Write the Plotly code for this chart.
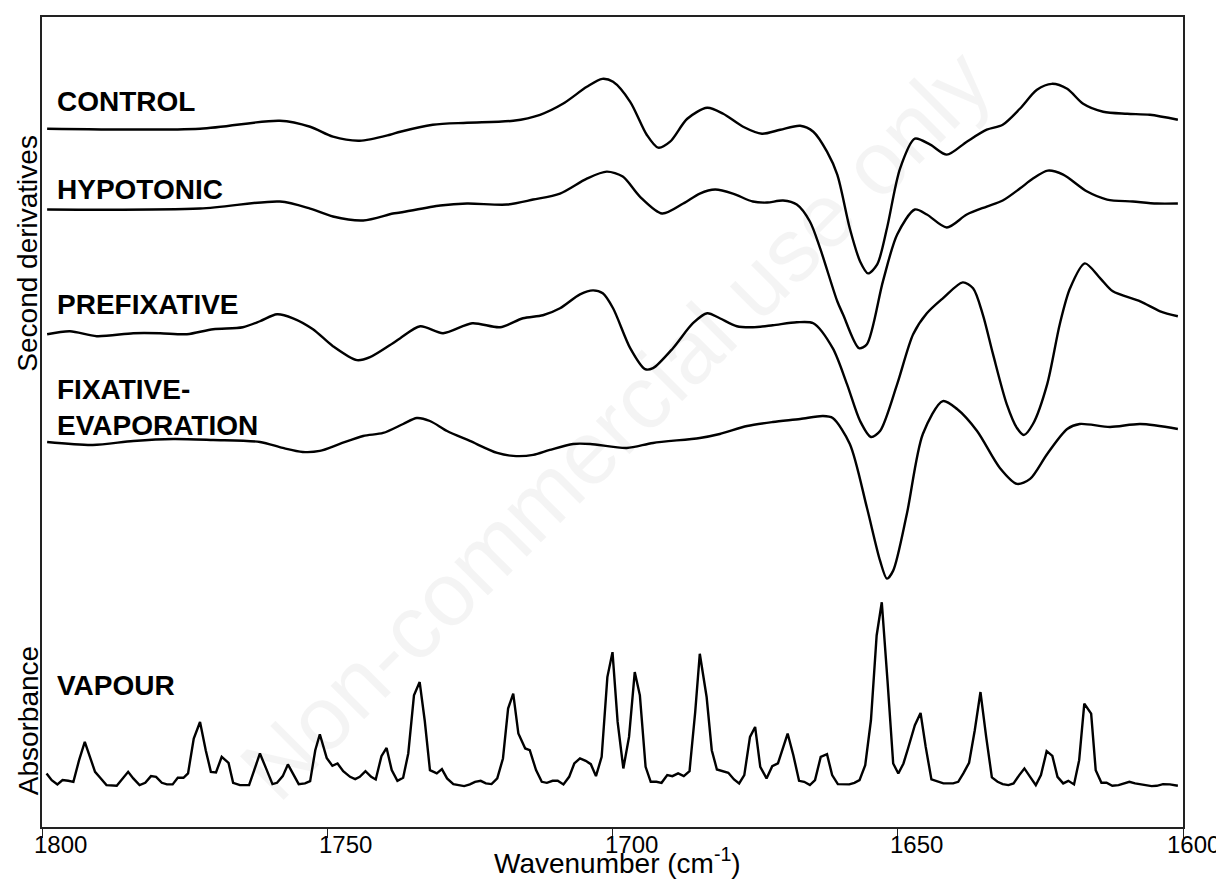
import plotly.graph_objects as go

# ---------------- data ----------------
tick_vals = [1800, 1750, 1700, 1650, 1600]
tick_text = ["1800", "1750", "1700", "1650", "1600"]

# second-derivative spectra: wavenumber (cm-1) and value (a.u., relative to own baseline)
control_wn = [1799.1, 1772.3, 1758.3, 1753.0, 1749.0, 1744.3, 1739.0, 1737.2, 1731.5, 1725.5,
              1717.4, 1712.7, 1708.7, 1704.5, 1701.8, 1699.9, 1696.9, 1694.0, 1692.0, 1689.9,
              1686.9, 1683.4, 1680.6, 1677.1, 1673.8, 1670.6, 1667.1, 1664.8, 1662.4, 1660.6,
              1658.4, 1656.6, 1655.2, 1653.6, 1651.9, 1649.6, 1647.0, 1644.3, 1641.4, 1637.9,
              1634.4, 1631.6, 1628.6, 1625.6, 1623.0, 1620.3, 1617.5, 1614.0, 1609.8, 1605.8, 1600.9]
control_val = [0, 0, 8, 2, -8, -12, -6, -3, 4, 6,
               8, 14, 25, 42, 50, 47, 27, -6, -19, -13,
               10, 21, 15, 2, -5, -1, 3, -3, -23, -46,
               -100, -133, -145, -136, -100, -40, -10, -16, -26, -13,
               -1, 4, 20, 39, 45, 40, 25, 17, 15, 14, 9]

hypotonic_wn = [1799.1, 1772.3, 1758.3, 1753.0, 1749.0, 1743.7, 1738.5, 1737.2, 1730.2, 1725.5,
                1718.5, 1713.9, 1709.2, 1704.5, 1701.0, 1698.2, 1695.2, 1691.3, 1687.6, 1684.7,
                1682.0, 1678.9, 1675.4, 1672.9, 1670.1, 1667.7, 1665.4, 1663.6, 1660.6, 1659.6,
                1656.8, 1655.4, 1652.6, 1650.1, 1647.0, 1644.9, 1641.4, 1637.9, 1634.4, 1631.6,
                1628.6, 1626.3, 1623.7, 1621.0, 1616.8, 1613.3, 1608.8, 1604.6, 1600.9]
hypotonic_val = [0, 1, 8, 1, -7, -11, -4, -3, 4, 6,
                 5, 10, 16, 31, 38, 33, 13, -4, 6, 16,
                 20, 16, 8, 7, 9, 5, -12, -39, -92, -105,
                 -139, -135, -72, -25, 0, -5, -18, -5, 3, 9,
                 21, 31, 39, 35, 18, 10, 8, 6, 6]

prefix_wn = [1799.1, 1795.1, 1790.4, 1784.0, 1779.3, 1774.6, 1770.0, 1764.8, 1761.8, 1758.8,
             1756.0, 1752.5, 1749.0, 1744.8, 1742.5, 1738.5, 1737.2, 1733.7, 1729.7, 1724.6,
             1719.7, 1715.7, 1712.2, 1709.2, 1705.7, 1703.4, 1701.7, 1699.9, 1696.9, 1694.3,
             1692.9, 1689.4, 1685.9, 1683.4, 1681.2, 1678.2, 1675.4, 1671.9, 1667.7, 1664.8,
             1661.4, 1658.9, 1656.6, 1654.7, 1653.1, 1650.1, 1647.3, 1644.9, 1642.1, 1638.6,
             1636.8, 1635.1, 1633.3, 1630.9, 1629.1, 1627.9, 1626.3, 1623.8, 1621.6, 1619.8,
             1617.2, 1614.5, 1612.3, 1607.5, 1604.0, 1600.9]
prefix_val = [0, 3, -2, 1, 1, 0, 5, 7, 13, 20,
              16, 5, -12, -26, -23, -9, -4, 8, 1, 11,
              7, 16, 19, 26, 40, 44, 41, 26, -14, -35,
              -34, -14, 11, 21, 16, 8, 7, 9, 12, 11,
              -14, -50, -87, -103, -97, -50, 0, 21, 36, 52,
              46, 20, -20, -70, -94, -101, -90, -50, 10, 46,
              71, 56, 43, 33, 23, 18]

fixevap_wn = [1799.1, 1791.1, 1784.0, 1777.0, 1770.0, 1761.8, 1757.8, 1754.3, 1751.3, 1747.8,
              1743.7, 1740.2, 1736.7, 1734.3, 1732.0, 1729.0, 1725.0, 1720.2, 1717.4, 1713.9,
              1711.0, 1706.9, 1703.9, 1697.5, 1692.9, 1684.7, 1681.2, 1676.4, 1671.9, 1667.1,
              1663.1, 1661.4, 1658.4, 1655.4, 1653.1, 1651.9, 1650.8, 1648.4, 1645.6, 1642.1,
              1639.6, 1636.1, 1632.1, 1629.1, 1626.8, 1623.8, 1620.3, 1618.1, 1612.8, 1607.5, 1600.9]
fixevap_val = [0, -3, 1, 3, 2, 0, -6, -10, -9, -2,
               6, 9, 18, 24, 21, 11, 1, -11, -14, -13,
               -8, -2, -2, -6, -1, 4, 8, 16, 20, 23,
               26, 24, -2, -66, -119, -137, -129, -72, 8, 41,
               33, 11, -26, -42, -37, -12, 13, 18, 15, 18, 13]

# water vapour absorbance spectrum
vapour_wn = [1799.2, 1798.3, 1797.3, 1796.4, 1795.4, 1794.5, 1793.5, 1792.5, 1791.6, 1790.7,
             1789.8, 1788.7, 1786.9, 1785.9, 1784.9, 1784.0, 1782.9, 1781.9, 1780.9, 1780.0,
             1779.0, 1778.1, 1777.1, 1776.2, 1775.2, 1774.4, 1773.4, 1772.3, 1771.3, 1770.4,
             1769.5, 1768.5, 1767.3, 1766.5, 1765.3, 1763.7, 1762.7, 1761.8, 1760.6, 1759.6,
             1758.8, 1757.8, 1756.9, 1756.0, 1755.0, 1753.9, 1753.0, 1752.1, 1751.3, 1750.1,
             1749.1, 1748.2, 1747.2, 1746.0, 1745.1, 1744.3, 1743.3, 1742.3, 1741.5, 1740.5,
             1739.6, 1738.7, 1737.7, 1736.7, 1735.8, 1734.8, 1733.8, 1732.9, 1732.0, 1730.8,
             1729.9, 1729.0, 1727.9, 1726.0, 1725.0, 1724.1, 1723.1, 1722.2, 1721.2, 1720.2,
             1719.2, 1718.3, 1717.4, 1716.5, 1715.3, 1714.5, 1713.4, 1712.4, 1711.5, 1710.5,
             1709.6, 1708.6, 1707.6, 1706.7, 1705.7, 1704.7, 1703.8, 1702.9, 1701.9, 1700.9,
             1700.0, 1699.1, 1698.1, 1697.1, 1696.1, 1695.2, 1694.2, 1693.3, 1692.3, 1691.4,
             1690.4, 1689.5, 1688.5, 1687.5, 1686.5, 1685.5, 1684.7, 1683.5, 1682.6, 1681.7,
             1680.6, 1679.7, 1678.7, 1677.8, 1676.9, 1675.9, 1675.0, 1674.1, 1673.0, 1672.0,
             1671.0, 1670.1, 1669.3, 1668.3, 1667.3, 1666.4, 1665.4, 1664.5, 1663.5, 1662.4,
             1661.5, 1660.5, 1659.5, 1658.5, 1657.6, 1656.7, 1655.7, 1654.7, 1653.7, 1652.8,
             1651.8, 1650.8, 1649.9, 1649.0, 1648.2, 1647.0, 1646.0, 1645.1, 1644.1, 1643.1,
             1642.0, 1640.3, 1639.4, 1638.5, 1637.5, 1636.5, 1635.5, 1634.5, 1633.5, 1632.5,
             1631.6, 1630.6, 1629.7, 1628.7, 1627.8, 1626.8, 1625.8, 1624.9, 1623.9, 1622.9,
             1622.0, 1621.0, 1620.1, 1619.1, 1618.2, 1617.3, 1616.1, 1615.3, 1614.3, 1613.4,
             1612.4, 1611.3, 1609.4, 1608.4, 1606.4, 1605.5, 1604.6, 1603.5, 1602.3, 1600.9]
vapour_val = [12.7, 6, 1.7, 6, 5.3, 4.3, 26, 44.3, 29.3, 14.3,
              8.3, 1, 0.3, 7.7, 14.3, 7.7, 1, 3.3, 10, 9.3,
              3.3, 1.7, 1.7, 8.3, 8.3, 12.7, 47.7, 64.3, 36, 14.3,
              13.7, 29.3, 23.3, 3.3, 1, 1, 17.7, 32.7, 16, 2,
              3.3, 10, 21.7, 11.7, 2, 2.7, 5, 36, 52, 28.3,
              20.3, 22.7, 15, 9.3, 7, 9.3, 15, 9.3, 6.7, 30,
              38.3, 16, 5.3, 8.3, 32.7, 91, 104.3, 65, 16, 12.7,
              17, 7.7, 2, 0, 1.7, 4.3, 5.3, 2.7, 2, 7.7,
              27.7, 77.7, 92.7, 52.7, 37.7, 36, 16, 4.3, 3.3, 5.3,
              5.3, 1.7, 9.3, 22.7, 27.7, 25.3, 22, 10, 29.3, 109.3,
              134.3, 64.3, 17.7, 49.3, 114.3, 91, 19.3, 4.3, 4.3, 3.3,
              11, 10, 12.7, 10, 15, 74.3, 132.7, 89.3, 36, 16.7,
              15, 13.3, 6.7, 2.7, 11, 49.3, 59.3, 19.3, 7.7, 20,
              22.7, 39.3, 52.7, 31, 5.3, 4.3, 1, 6, 29.3, 32,
              11, 2, 2, 1.7, 3.3, 6, 21, 66, 151, 184.3,
              106, 22.7, 12.7, 22.7, 37.7, 61, 73.3, 39.3, 6.7, 5,
              2.7, 2.7, 4.3, 12.7, 23.3, 56, 94.3, 49.3, 8.7, 4.3,
              2, 1, 2.7, 11, 17.7, 9.3, 1, 11, 35, 30.3,
              9.3, 2.7, 5.3, 1.7, 26, 82.7, 72.7, 16, 3.3, 3.3,
              0.3, 1, 4.3, 2.7, 1, 0, 0.3, 2, 1.7, 0.3]

series_names = ["CONTROL", "HYPOTONIC", "PREFIXATIVE", "FIXATIVE-<br>EVAPORATION", "VAPOUR"]
series_wn = [control_wn, hypotonic_wn, prefix_wn, fixevap_wn, vapour_wn]
series_val = [control_val, hypotonic_val, prefix_val, fixevap_val, vapour_val]
offsets = [700, 619, 494, 386, 41]            # vertical stacking offsets (a.u.)
label_y = [727, 639.5, 523.5, 421, 142]       # label centres (a.u.)
line_shapes = ["spline", "spline", "spline", "spline", "linear"]

# ---------------- figure ----------------
FONT = "Arial, Liberation Sans, Helvetica, sans-serif"
fig = go.Figure()

for wn, val, off, shape in zip(series_wn, series_val, offsets, line_shapes):
    fig.add_trace(go.Scatter(
        x=wn, y=[v + off for v in val], mode="lines",
        line=dict(color="black", width=2.4, shape=shape, smoothing=0.8),
        showlegend=False, hoverinfo="skip"))

annotations = []
for name, ly in zip(series_names, label_y):
    annotations.append(dict(
        x=0.011, xref="paper", y=ly, yref="y", text="<b>" + name + "</b>",
        showarrow=False, xanchor="left", yanchor="middle", align="left",
        font=dict(family=FONT, size=28, color="black")))

# x tick labels (start a few px left of their ticks, as in the reference;
# the last one is kept inside the page edge)
for i, (tv, tt) in enumerate(zip(tick_vals, tick_text)):
    last = i == len(tick_vals) - 1
    annotations.append(dict(
        x=tv, xref="x", y=-0.0222, yref="paper", text=tt,
        xshift=39 if last else -10, xanchor="right" if last else "left",
        showarrow=False, yanchor="middle",
        font=dict(family=FONT, size=24, color="black")))

# axis titles
annotations.append(dict(x=-0.0123, xref="paper", y=0.709, yref="paper",
                        text="Second derivatives", textangle=-90, showarrow=False,
                        xanchor="center", yanchor="middle",
                        font=dict(family=FONT, size=28, color="black")))
annotations.append(dict(x=-0.0123, xref="paper", y=0.1317, yref="paper",
                        text="Absorbance", textangle=-90, showarrow=False,
                        xanchor="center", yanchor="middle",
                        font=dict(family=FONT, size=28, color="black")))
annotations.append(dict(x=0.5044, xref="paper", y=-0.0415, yref="paper",
                        text="Wavenumber (cm<sup>-1</sup>)", showarrow=False,
                        xanchor="center", yanchor="middle",
                        font=dict(family=FONT, size=28, color="black")))
# faint watermark
annotations.append(dict(x=0.503, xref="paper", y=0.497, yref="paper",
                        text="Non-commercial use only", textangle=-45, showarrow=False,
                        xanchor="center", yanchor="middle",
                        font=dict(family=FONT, size=90, color="rgba(0,0,0,0.045)")))

# page body has an 8px margin: figure is sized/margined so that the plot area
# lands at x 42..1183, y 15..827 of the 1224x880 window
fig.update_layout(
    width=1216, height=872,
    margin=dict(l=34, r=41, t=7, b=53),
    paper_bgcolor="white", plot_bgcolor="white",
    annotations=annotations,
    xaxis=dict(range=[1800, 1600], tickvals=tick_vals, showticklabels=False,
               ticks="outside", ticklen=9, tickwidth=1.2, tickcolor="#222",
               showline=True, linecolor="#222", linewidth=1.5, mirror=True,
               showgrid=False, zeroline=False),
    yaxis=dict(range=[0, 812], showticklabels=False, ticks="",
               showline=True, linecolor="#222", linewidth=1.5, mirror=True,
               showgrid=False, zeroline=False),
)

fig.write_html("out.html")
